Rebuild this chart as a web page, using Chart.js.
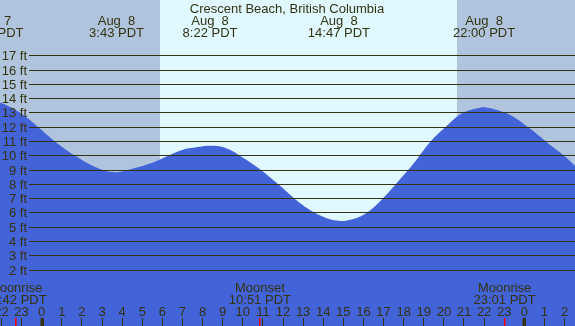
<!DOCTYPE html>
<html>
<head>
<meta charset="utf-8">
<script src="https://cdn.jsdelivr.net/npm/chart.js@4"></script>
<style>
html,body{margin:0;padding:0;background:#fff;}
#wrap{width:575px;height:326px;position:relative;}
</style>
</head>
<body>
<div id="wrap"><canvas id="c" width="575" height="326"></canvas></div>
<script>
// ---- data (hours relative to Aug 8 00:00 PDT, heights in ft)
const tideHours   = [-2.45, -2.07, -1.08, -0.17, 0.66, 1.66, 2.9, 3.72, 4.54, 5.39, 6.24, 7.02, 7.87, 8.37, 8.87, 9.36, 9.86, 10.21, 11.0, 11.85, 12.70, 13.49, 14.34, 14.78, 15.18, 15.98, 16.82, 17.97, 18.46, 19.31, 20.15, 20.95, 21.80, 22.0, 22.64, 23.43, 24.28, 25.12, 25.98, 26.52];
const tideHeights = [13.76, 13.72, 13.0, 12.0, 11.0, 10.0, 9.07, 8.85, 9.1, 9.45, 9.97, 10.42, 10.63, 10.7, 10.65, 10.42, 10.0, 9.68, 8.9, 7.9, 6.85, 6.08, 5.55, 5.45, 5.47, 5.85, 6.8, 8.6, 9.4, 10.95, 12.1, 13.0, 13.36, 13.4, 13.2, 12.75, 11.9, 10.95, 10.0, 9.3];

const eventHours = [-2.45, 3.72, 8.37, 14.78, 22.0];
const eventDates = ["Aug  7", "Aug  8", "Aug  8", "Aug  8", "Aug  8"];
const eventTimes = ["21:33 PDT", "3:43 PDT", "8:22 PDT", "14:47 PDT", "22:00 PDT"];

const moonHours = [-1.3, 10.85, 23.02];
const moonNames = ["Moonrise", "Moonset", "Moonrise"];
const moonTimes = ["22:42 PDT", "10:51 PDT", "23:01 PDT"];

const sunriseHour = 5.88;
const sunsetHour = 20.65;

const hourTicks = [];
for (let h = -2; h <= 26; h++) hourTicks.push(h);
const hourLabels = hourTicks.map(h => String((h + 24) % 24));
const midnightHours = [0, 24];

const ftTicks = [2,3,4,5,6,7,8,9,10,11,12,13,14,15,16,17];
const ftLabels = ftTicks.map(v => v + " ft");

const title = "Crescent Beach, British Columbia";

// ---- styles
const FONT = "13px 'Liberation Sans', Arial, sans-serif";
const TXT = "#333310";
const NIGHT = "#b0c4de";
const DAY = "#e0f8ff";
const WATER = "#4363d8";

const deco = {
  id: 'deco',
  beforeDraw(chart) {
    const ctx = chart.ctx, x = chart.scales.x, a = chart.chartArea;
    ctx.save();
    ctx.fillStyle = NIGHT;
    ctx.fillRect(a.left, a.top, a.right - a.left, a.bottom - a.top);
    const x1 = x.getPixelForValue(sunriseHour), x2 = x.getPixelForValue(sunsetHour);
    ctx.fillStyle = DAY;
    ctx.fillRect(Math.round(x1), a.top, Math.round(x2) - Math.round(x1), a.bottom - a.top);
    ctx.restore();
  },
  afterDatasetsDraw(chart) {
    const ctx = chart.ctx, x = chart.scales.x, y = chart.scales.y, a = chart.chartArea;
    ctx.save();
    ctx.strokeStyle = TXT;
    ctx.lineWidth = 1;
    ctx.font = FONT;
    ctx.fillStyle = TXT;
    ctx.textAlign = 'right';
    ctx.textBaseline = 'alphabetic';
    ftTicks.forEach((v, i) => {
      const py = Math.floor(y.getPixelForValue(v)) + 0.5;
      ctx.beginPath();
      ctx.moveTo(29, py);
      ctx.lineTo(a.right, py);
      ctx.stroke();
      ctx.fillText(ftLabels[i], 27, py + 4);
    });
    ctx.textAlign = 'center';
    ctx.fillText(title, 287, 13);
    eventHours.forEach((h, i) => {
      const px = x.getPixelForValue(h);
      ctx.fillText(eventDates[i], px, 25);
      ctx.fillText(eventTimes[i], px, 37);
    });
    moonHours.forEach((h, i) => {
      const px = x.getPixelForValue(h);
      ctx.fillText(moonNames[i], px, 292);
      ctx.fillText(moonTimes[i], px, 304);
    });
    hourTicks.forEach((h, i) => {
      const px = x.getPixelForValue(h);
      ctx.fillStyle = TXT;
      ctx.fillText(hourLabels[i], px, 316);
      if (midnightHours.includes(h)) {
        ctx.fillRect(Math.round(px) - 1.5, 318, 3.5, 8);
      } else {
        ctx.fillRect(Math.floor(px), 318, 1, 8);
      }
    });
    ctx.fillStyle = "#ff0000";
    moonHours.forEach(h => {
      const px = x.getPixelForValue(h);
      ctx.fillRect(Math.floor(px), 318, 1.5, 8);
    });
    ctx.restore();
  }
};

new Chart(document.getElementById('c'), {
  type: 'line',
  data: {
    datasets: [{
      data: tideHours.map((h, i) => ({x: h, y: tideHeights[i]})),
      fill: 'start',
      backgroundColor: WATER,
      borderColor: WATER,
      borderWidth: 0,
      pointRadius: 0,
      tension: 0.4
    }]
  },
  options: {
    responsive: false,
    animation: false,
    layout: {padding: 0},
    plugins: {legend: {display: false}, tooltip: {enabled: false}},
    scales: {
      x: {type: 'linear', display: false, min: -2.074, max: 26.52},
      y: {type: 'linear', display: false, min: -1.92, max: 20.9}
    }
  },
  plugins: [deco]
});
</script>
</body>
</html>
